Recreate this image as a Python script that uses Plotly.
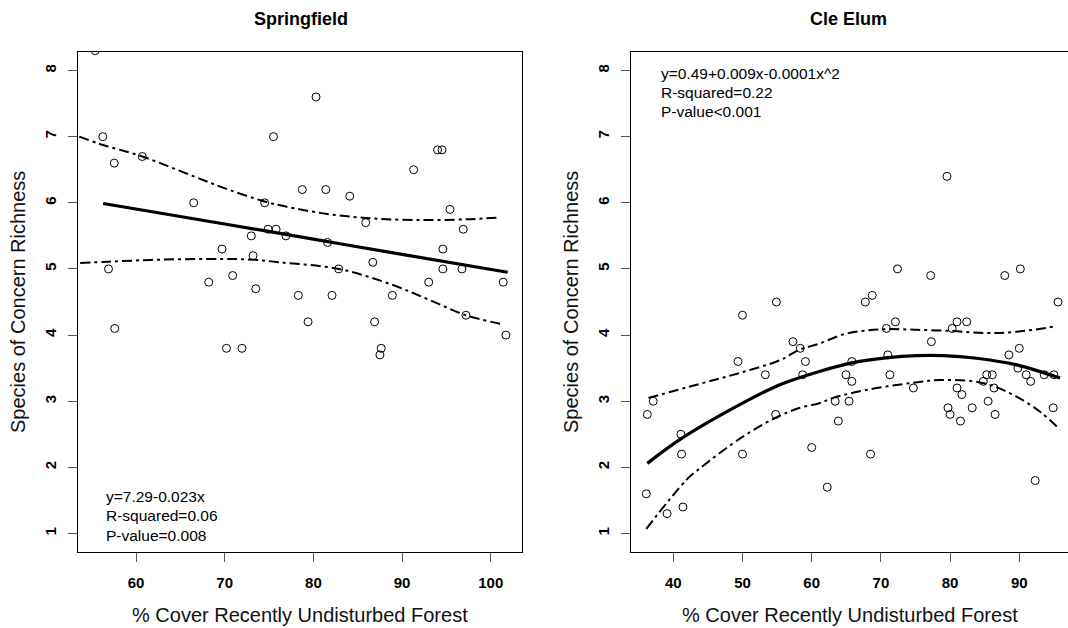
import plotly.graph_objects as go

# ---------------- data: Springfield ----------------
spring_x = [55.4, 56.25, 57.55, 60.7, 66.5, 75.5, 74.5, 74.9, 75.8, 76.9, 73.0, 69.7, 73.2,
            80.3, 94.0, 94.5, 91.3, 78.75, 81.4, 84.1, 95.4, 85.9, 96.9, 81.6, 94.6,
            56.9, 68.2, 70.9, 73.5, 57.6, 70.2, 71.95, 86.7, 82.85, 94.6, 96.75, 93.0,
            101.4, 78.3, 82.1, 88.9, 79.4, 86.9, 97.2, 101.7, 87.65, 87.5]
spring_y = [8.3, 7.0, 6.6, 6.7, 6.0, 7.0, 6.0, 5.6, 5.6, 5.5, 5.5, 5.3, 5.2,
            7.6, 6.8, 6.8, 6.5, 6.2, 6.2, 6.1, 5.9, 5.7, 5.6, 5.4, 5.3,
            5.0, 4.8, 4.9, 4.7, 4.1, 3.8, 3.8, 5.1, 5.0, 5.0, 5.0, 4.8,
            4.8, 4.6, 4.6, 4.6, 4.2, 4.2, 4.3, 4.0, 3.8, 3.7]

spring_fit_x = [56.3, 70.0, 80.0, 90.0, 101.9]
spring_fit_y = [5.99, 5.68, 5.45, 5.22, 4.95]
spring_up_x = [53.6, 55.9, 60.7, 66.5, 70.2, 74.5, 77.0, 81.1, 85.9, 91.3, 97.3, 101.1]
spring_up_y = [7.0, 6.89, 6.70, 6.40, 6.21, 6.02, 5.94, 5.84, 5.77, 5.74, 5.75, 5.78]
spring_lo_x = [53.7, 56.9, 62.7, 69.7, 73.2, 76.2, 82.85, 88.9, 93.1, 97.2, 101.1]
spring_lo_y = [5.09, 5.11, 5.14, 5.15, 5.14, 5.10, 5.0, 4.76, 4.53, 4.30, 4.17]

# ---------------- data: Cle Elum ----------------
cle_x = [79.55, 54.9, 50.0, 57.3, 58.35, 49.35, 59.1, 53.3, 58.7, 37.1, 36.25, 54.8,
         41.1, 41.2, 50.0, 60.0, 68.5, 62.25, 92.3, 36.1, 39.1, 41.4,
         72.4, 77.2, 87.9, 90.15, 67.75, 68.75, 95.6, 72.1, 70.8, 81.0, 82.4, 80.3,
         77.3, 65.8, 71.0, 90.0, 88.5, 64.95, 65.8, 71.3, 85.3, 86.1, 84.8, 89.8,
         91.0, 91.65, 93.6, 95.0, 74.7, 81.0, 81.7, 86.35, 63.4, 65.4, 85.5, 79.7,
         83.2, 80.0, 86.5, 94.9, 63.85, 81.5]
cle_y = [6.4, 4.5, 4.3, 3.9, 3.8, 3.6, 3.6, 3.4, 3.4, 3.0, 2.8, 2.8,
         2.5, 2.2, 2.2, 2.3, 2.2, 1.7, 1.8, 1.6, 1.3, 1.4,
         5.0, 4.9, 4.9, 5.0, 4.5, 4.6, 4.5, 4.2, 4.1, 4.2, 4.2, 4.1,
         3.9, 3.6, 3.7, 3.8, 3.7, 3.4, 3.3, 3.4, 3.4, 3.4, 3.3, 3.5,
         3.4, 3.3, 3.4, 3.4, 3.2, 3.2, 3.1, 3.2, 3.0, 3.0, 3.0, 2.9,
         2.9, 2.8, 2.8, 2.9, 2.7, 2.7]

cle_fit_x = [36.25, 41.1, 50.0, 55.4, 61.1, 65.8, 71.0, 75.2, 79.0, 83.85, 89.6, 95.9]
cle_fit_y = [2.06, 2.43, 2.97, 3.25, 3.45, 3.58, 3.66, 3.69, 3.69, 3.65, 3.55, 3.35]
cle_up_x = [36.4, 43.4, 49.35, 55.4, 58.3, 61.1, 64.6, 67.9, 70.8, 75.2, 80.5, 85.3, 89.6, 95.2]
cle_up_y = [3.05, 3.25, 3.42, 3.62, 3.78, 3.87, 4.01, 4.07, 4.09, 4.08, 4.06, 4.03, 4.05, 4.13]
cle_lo_x = [36.1, 41.9, 43.9, 50.0, 54.8, 58.3, 61.1, 63.1, 67.9, 74.7, 78.5, 83.4, 86.2, 89.6, 93.0, 95.9]
cle_lo_y = [1.07, 1.81, 1.99, 2.46, 2.75, 2.90, 2.97, 3.05, 3.17, 3.28, 3.32, 3.30, 3.23, 3.07, 2.84, 2.57]

y_ticks = [1, 2, 3, 4, 5, 6, 7, 8]
spring_xticks = [60, 70, 80, 90, 100]
cle_xticks = [40, 50, 60, 70, 80, 90]

titles = ["Springfield", "Cle Elum"]
x_title = "% Cover Recently Undisturbed Forest"
y_title = "Species of Concern Richness"
spring_stats = ["y=7.29-0.023x", "R-squared=0.06", "P-value=0.008"]
cle_stats = ["y=0.49+0.009x-0.0001x^2", "R-squared=0.22", "P-value<0.001"]

# ---------------- figure ----------------
W, H = 1068, 628
FONT = "Liberation Sans, Arial, sans-serif"
dash = "10px,4px,3px,4px"

def px_x(p):
    return p / W

def px_y(p):
    return 1 - p / H

fig = go.Figure()

def add_panel(xs, ys, fx, fy, ux, uy, lx, ly, xa, ya):
    fig.add_trace(go.Scatter(x=xs, y=ys, mode="markers", xaxis=xa, yaxis=ya,
                             marker=dict(symbol="circle-open", size=8, color="black",
                                         line=dict(width=1, color="black")),
                             showlegend=False, hoverinfo="skip"))
    fig.add_trace(go.Scatter(x=fx, y=fy, mode="lines", xaxis=xa, yaxis=ya,
                             line=dict(color="black", width=3.2, shape="spline"),
                             showlegend=False, hoverinfo="skip"))
    for bx, by in ((ux, uy), (lx, ly)):
        fig.add_trace(go.Scatter(x=bx, y=by, mode="lines", xaxis=xa, yaxis=ya,
                                 line=dict(color="black", width=2, dash=dash, shape="spline"),
                                 showlegend=False, hoverinfo="skip"))

add_panel(spring_x, spring_y, spring_fit_x, spring_fit_y, spring_up_x, spring_up_y,
          spring_lo_x, spring_lo_y, "x", "y")
add_panel(cle_x, cle_y, cle_fit_x, cle_fit_y, cle_up_x, cle_up_y,
          cle_lo_x, cle_lo_y, "x2", "y2")

tickfont = dict(family=FONT, size=15, color="black", weight="bold")
common_x = dict(showgrid=False, zeroline=False, showline=True, linecolor="black", linewidth=1,
                ticks="outside", ticklen=9, tickcolor="#555", tickwidth=1.3,
                tickfont=tickfont, ticklabelstandoff=8)
common_y = dict(showgrid=False, zeroline=False, showline=True, linecolor="black", linewidth=1,
                ticks="outside", ticklen=9, tickcolor="#555", tickwidth=1.3,
                tickfont=tickfont, tickangle=-90, ticklabelstandoff=6,
                range=[0.72, 8.28], tickvals=y_ticks, ticktext=[str(v) for v in y_ticks])

ydom = [px_y(552), px_y(52)]
fig.update_layout(
    width=W, height=H, margin=dict(l=0, r=0, t=0, b=0),
    paper_bgcolor="white", plot_bgcolor="white",
    xaxis=dict(domain=[px_x(78), px_x(522)], range=[53.46, 103.52], mirror=True,
               tickvals=spring_xticks, ticktext=[str(v) for v in spring_xticks],
               anchor="y", **common_x),
    yaxis=dict(domain=ydom, mirror=True, anchor="x", **common_y),
    xaxis2=dict(domain=[px_x(631), 1.0], range=[33.89, 97.04], mirror=True,
                tickvals=cle_xticks, ticktext=[str(v) for v in cle_xticks],
                anchor="y2", **common_x),
    yaxis2=dict(domain=ydom, mirror=False, anchor="x2", **common_y),
)

ann = []
# panel titles
for t, cx in zip(titles, [300.5, 848]):
    ann.append(dict(text=t, x=px_x(cx), y=px_y(19), xref="paper", yref="paper",
                    showarrow=False, xanchor="center", yanchor="middle",
                    font=dict(family=FONT, size=18, color="black", weight="bold")))
# axis titles
for cx in [300, 850]:
    ann.append(dict(text=x_title, x=px_x(cx), y=px_y(615), xref="paper", yref="paper",
                    showarrow=False, xanchor="center", yanchor="middle",
                    font=dict(family=FONT, size=20, color="#111")))
for cx in [18, 571]:
    ann.append(dict(text=y_title, x=px_x(cx), y=px_y(302), xref="paper", yref="paper",
                    showarrow=False, xanchor="center", yanchor="middle", textangle=-90,
                    font=dict(family=FONT, size=20, color="#111")))
# stats text
for lines, lx, ys in [(spring_stats, 104, [496.7, 515.7, 535]),
                      (cle_stats, 659, [73.3, 92.7, 111.7])]:
    for s, yy in zip(lines, ys):
        ann.append(dict(text=s, x=px_x(lx), y=px_y(yy), xref="paper", yref="paper",
                        showarrow=False, xanchor="left", yanchor="middle",
                        font=dict(family=FONT, size=15.5, color="black")))
fig.update_layout(annotations=ann)

fig.write_html("out.html")
